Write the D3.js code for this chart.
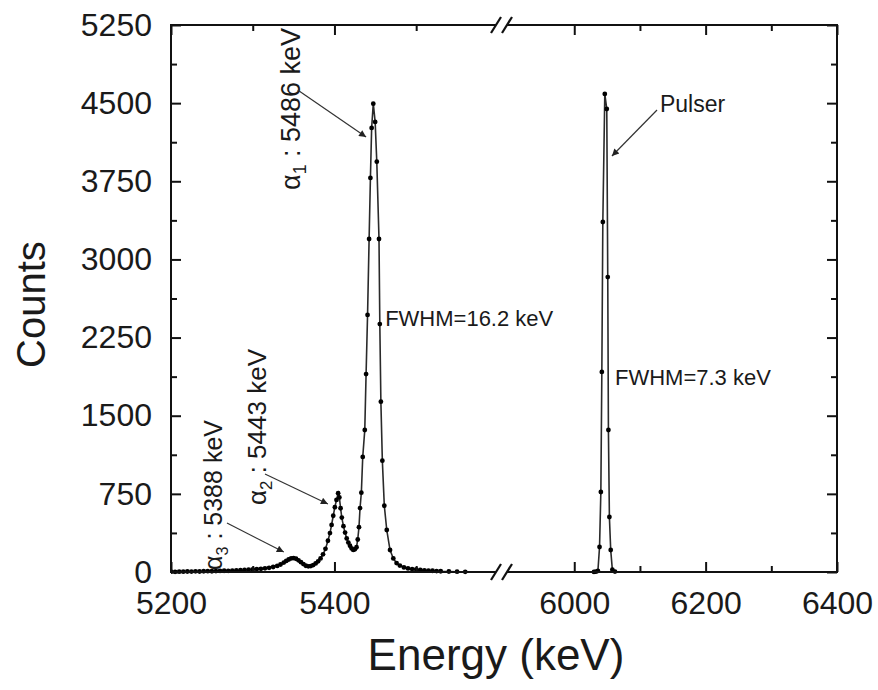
<!DOCTYPE html>
<html>
<head>
<meta charset="utf-8">
<script src="https://cdn.jsdelivr.net/npm/d3@7"></script>
<style>
  body { margin: 0; background: #fff; }
  text { font-family: "Liberation Sans", Arial, sans-serif; fill: #1a1a1a; }
</style>
</head>
<body>
<script>
// alpha spectrum (left part of the broken axis)
var energyA = [5200, 5205, 5210, 5215, 5220, 5225, 5230, 5235, 5240, 5245,
  5250, 5255, 5260, 5265, 5270, 5275, 5280, 5285, 5290, 5295,
  5300, 5305, 5310, 5315, 5320, 5325, 5330, 5334, 5338, 5341,
  5344, 5347, 5350, 5353, 5356, 5359, 5362, 5365, 5368, 5371,
  5374, 5377, 5380, 5383, 5386, 5389, 5392, 5394.5, 5396.5, 5398.5,
  5400.5, 5402.5, 5404.5, 5406, 5407.5, 5409, 5411, 5413, 5415, 5417,
  5419, 5421, 5423, 5425, 5427, 5428.5, 5430, 5431.3, 5432.9, 5434.6,
  5437.1, 5438.7, 5440.5, 5442.4, 5444, 5445.5, 5447.5, 5449.8, 5451.8, 5454.5,
  5455.5, 5456.8, 5458.6, 5461, 5464, 5468, 5472, 5476, 5480, 5485,
  5490, 5495, 5500, 5505, 5510, 5515, 5520, 5525, 5530, 5540,
  5550, 5560];
var countsA = [3, 2, 4, 3, 5, 4, 6, 5, 7, 8,
  7, 9, 10, 12, 11, 14, 15, 17, 19, 22,
  25, 28, 30, 35, 40, 48, 58, 72, 90, 106,
  120, 130, 134, 127, 112, 94, 76, 60, 54, 57,
  66, 82, 102, 130, 170, 222, 300, 374, 452, 540,
  622, 692, 756, 716, 612, 522, 440, 378, 322, 282,
  252, 226, 212, 218, 238, 312, 430, 614, 761, 1104,
  1363, 1900, 2467, 3196, 3782, 4262, 4495, 4320, 3938, 3196,
  2380, 1635, 1068, 636, 403, 211, 130, 86, 62, 44,
  34, 28, 24, 20, 16, 14, 12, 9, 7, 5,
  3, 2];

// pulser (right part of the broken axis)
var energyP = [6030, 6033, 6036, 6038.5, 6040.5, 6042, 6043.5, 6046.5, 6049.5, 6051,
  6052, 6053.5, 6055.5, 6058, 6062];
var countsP = [1, 3, 10, 240, 768, 1920, 3359, 4588, 4444, 2831,
  1363, 528, 211, 22, 4];

var yMajor = [0, 750, 1500, 2250, 3000, 3750, 4500, 5250];
var yMinor = [375, 1125, 1875, 2625, 3375, 4125, 4875];
var xMajorA = [5200, 5400];
var xMinorA = [5300, 5500];
var xMajorP = [6000, 6200, 6400];
var xMinorP = [6100, 6300];

var width = 878;
var height = 690;
var plot = { left: 171, right: 837, top: 25, bottom: 572, brk: 502 };

var svg = d3.select('body')
            .append('svg')
            .attr('width', width)
            .attr('height', height);

var xA = d3.scaleLinear().domain([5200, 5605]).range([plot.left, plot.brk]);
var xP = d3.scaleLinear().domain([5890, 6400]).range([plot.brk, plot.right]);
var y = d3.scaleLinear().domain([0, 5250]).range([plot.bottom, plot.top]);

var dataA = energyA.map(function (e, i) { return { e: e, c: countsA[i] }; });
var dataP = energyP.map(function (e, i) { return { e: e, c: countsP[i] }; });

// clip each half of the broken axis
var defs = svg.append('defs');
defs.append('clipPath').attr('id', 'clipA').append('rect')
    .attr('x', plot.left).attr('y', plot.top - 5)
    .attr('width', plot.brk - plot.left).attr('height', plot.bottom - plot.top + 10);
defs.append('clipPath').attr('id', 'clipP').append('rect')
    .attr('x', plot.brk).attr('y', plot.top - 5)
    .attr('width', plot.right - plot.brk).attr('height', plot.bottom - plot.top + 10);
defs.append('marker')
    .attr('id', 'arrow')
    .attr('viewBox', '0 0 10 10')
    .attr('refX', 10).attr('refY', 5)
    .attr('markerWidth', 9).attr('markerHeight', 7)
    .attr('markerUnits', 'userSpaceOnUse')
    .attr('orient', 'auto')
  .append('path')
    .attr('d', 'M0,0 L10,5 L0,10 z')
    .attr('fill', '#222');

function drawSeries(data, x, clip) {
  var g = svg.append('g').attr('clip-path', 'url(#' + clip + ')');
  var line = d3.line()
               .x(function (d) { return x(d.e); })
               .y(function (d) { return y(d.c); });
  g.append('path')
    .datum(data)
    .attr('d', line)
    .attr('fill', 'none')
    .attr('stroke', '#2a2a2a')
    .attr('stroke-width', 1.6);
  g.selectAll('circle')
    .data(data)
    .enter()
    .append('circle')
    .attr('cx', function (d) { return x(d.e); })
    .attr('cy', function (d) { return y(d.c); })
    .attr('r', 2.4)
    .attr('fill', '#000');
}

drawSeries(dataA, xA, 'clipA');
drawSeries(dataP, xP, 'clipP');

// axes: ticks point inwards on all four sides
function addAxis(axisFn, scale, vals, size, labels, transform) {
  var g = svg.append('g')
             .attr('transform', transform)
             .call(axisFn(scale)
                    .tickValues(vals)
                    .tickSizeInner(size)
                    .tickSizeOuter(0)
                    .tickPadding(19)
                    .tickFormat(labels ? d3.format('d') : ''));
  g.select('.domain').remove();
  g.selectAll('line').attr('stroke', '#111').attr('stroke-width', 2);
  g.selectAll('text')
    .attr('font-size', 32)
    .attr('font-family', '"Liberation Sans", Arial, sans-serif')
    .attr('fill', '#1a1a1a');
}

var bottomT = `translate(0,${plot.bottom})`;
var topT = `translate(0,${plot.top})`;
var leftT = `translate(${plot.left},0)`;
var rightT = `translate(${plot.right},0)`;

addAxis(d3.axisBottom, xA, xMajorA, -10, true, bottomT);
addAxis(d3.axisBottom, xA, xMinorA, -6, false, bottomT);
addAxis(d3.axisBottom, xP, xMajorP, -10, true, bottomT);
addAxis(d3.axisBottom, xP, xMinorP, -6, false, bottomT);
addAxis(d3.axisTop, xA, xMajorA, -10, false, topT);
addAxis(d3.axisTop, xA, xMinorA, -6, false, topT);
addAxis(d3.axisTop, xP, xMajorP, -10, false, topT);
addAxis(d3.axisTop, xP, xMinorP, -6, false, topT);
addAxis(d3.axisLeft, y, yMajor, -10, true, leftT);
addAxis(d3.axisLeft, y, yMinor, -6, false, leftT);
addAxis(d3.axisRight, y, yMajor, -10, false, rightT);
addAxis(d3.axisRight, y, yMinor, -6, false, rightT);

// frame
svg.append('rect')
    .attr('x', plot.left)
    .attr('y', plot.top)
    .attr('width', plot.right - plot.left)
    .attr('height', plot.bottom - plot.top)
    .attr('fill', 'none')
    .attr('stroke', '#111')
    .attr('stroke-width', 2);

// break marks on top and bottom
[plot.top, plot.bottom].forEach(function (yy) {
  svg.append('rect')
      .attr('x', plot.brk - 6).attr('y', yy - 3)
      .attr('width', 11).attr('height', 6)
      .attr('fill', '#fff');
  [-6, 5].forEach(function (dx) {
    svg.append('line')
        .attr('x1', plot.brk + dx - 5).attr('y1', yy + 8)
        .attr('x2', plot.brk + dx + 5).attr('y2', yy - 8)
        .attr('stroke', '#111')
        .attr('stroke-width', 2.2);
  });
});

// axis titles
svg.append('text')
    .attr('x', (plot.left + plot.right) / 2 - 8)
    .attr('y', 670)
    .attr('text-anchor', 'middle')
    .attr('font-size', 44)
    .text('Energy (keV)');

svg.append('text')
    .attr('transform', `translate(45,${(plot.top + plot.bottom) / 2 + 6}) rotate(-90)`)
    .attr('text-anchor', 'middle')
    .attr('font-size', 40)
    .text('Counts');

// annotations
function arrow(x, e1, c1, e2, c2) {
  svg.append('line')
      .attr('x1', x(e1)).attr('y1', y(c1))
      .attr('x2', x(e2)).attr('y2', y(c2))
      .attr('stroke', '#333')
      .attr('stroke-width', 1.2)
      .attr('marker-end', 'url(#arrow)');
}

function alphaLabel(sub, rest, e, c, size) {
  var t = svg.append('text')
             .attr('transform', `translate(${xA(e)},${y(c)}) rotate(-90)`)
             .attr('font-size', size);
  t.append('tspan').text('α');
  t.append('tspan').attr('font-size', size * 0.65).attr('dy', 6).text(sub);
  t.append('tspan').attr('dy', -6).text(' : ' + rest);
}

alphaLabel('1', '5486 keV', 5358, 3667, 27);
alphaLabel('2', '5443 keV', 5316, 643, 26);
alphaLabel('3', '5388 keV', 5262, 19, 25);

arrow(xA, 5355, 4626, 5438.7, 4175);
arrow(xA, 5315, 941, 5392, 653);
arrow(xA, 5268.5, 470, 5338, 192);
arrow(xP, 6126, 4434, 6057.4, 3993);

svg.append('text')
    .attr('x', xA(5462)).attr('y', y(2361))
    .attr('font-size', 22)
    .text('FWHM=16.2 keV');

svg.append('text')
    .attr('x', xP(6062)).attr('y', y(1795))
    .attr('font-size', 22)
    .text('FWHM=7.3 keV');

svg.append('text')
    .attr('x', xP(6130.5)).attr('y', y(4415))
    .attr('font-size', 23)
    .text('Pulser');
</script>
</body>
</html>
